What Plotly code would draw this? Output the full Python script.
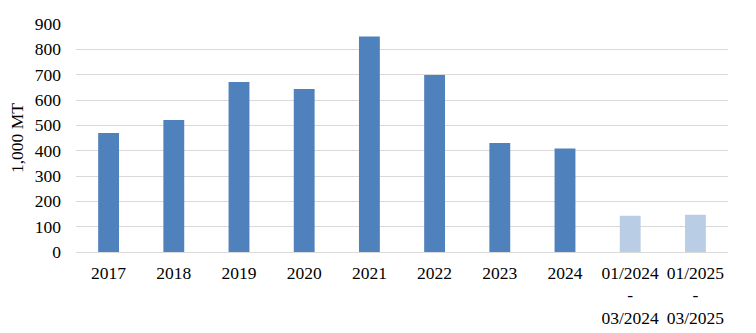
import plotly.graph_objects as go

categories = ["2017", "2018", "2019", "2020", "2021", "2022", "2023", "2024",
              "01/2024<br>-<br>03/2024", "01/2025<br>-<br>03/2025"]
values = [470, 521, 671, 643, 851, 699, 430, 409, 143, 147]
colors = ["#4F81BD"] * 8 + ["#B9CDE5"] * 2
y_ticks = [0, 100, 200, 300, 400, 500, 600, 700, 800, 900]

fig = go.Figure(go.Bar(x=categories, y=values, marker=dict(color=colors, line=dict(width=0))))

fig.update_layout(
    width=756, height=333,
    margin=dict(l=76, r=28, t=24, b=81),
    plot_bgcolor="white", paper_bgcolor="white",
    bargap=0.68,
    showlegend=False,
    font=dict(family="Liberation Serif, Times New Roman, serif", size=17.5, color="black"),
)
fig.update_yaxes(
    range=[0, 900], tickvals=y_ticks, showgrid=True, gridcolor="#D9D9D9", gridwidth=1,
    zeroline=True, zerolinecolor="#D9D9D9", zerolinewidth=1, showline=False,
    title=dict(text="1,000 MT", standoff=6, font=dict(size=17.5)), ticks="", ticklen=0,
    ticklabelstandoff=14, automargin=False,
)
fig.update_xaxes(showline=False, ticks="", tickangle=0, ticklabelstandoff=8, automargin=False)

fig.write_html("out.html")
